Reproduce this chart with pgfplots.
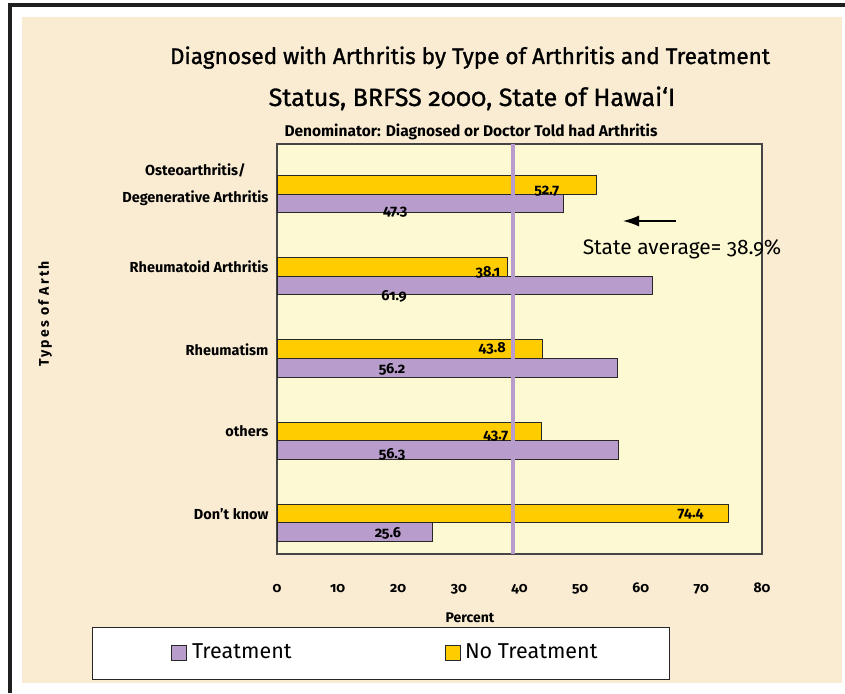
\documentclass[border=0pt]{standalone}
\usepackage{fontspec}
\setmainfont{Fira Sans}[Numbers=OldStyle]
\usepackage{pgfplots}
\pgfplotsset{compat=1.18}
\usetikzlibrary{arrows.meta}
\definecolor{parch}{RGB}{249,236,211}
\definecolor{plotbg}{RGB}{253,249,210}
\definecolor{gold}{RGB}{255,204,0}
\definecolor{purp}{RGB}{184,156,204}
\definecolor{edge}{RGB}{40,40,40}
\definecolor{axisgray}{RGB}{70,70,70}
\begin{document}
\begin{tikzpicture}
\useasboundingbox (0,0) rectangle (845pt,693pt);
\fill[white] (0,0) rectangle (845pt,693pt);
\fill[parch] (22pt,10pt) rectangle (842pt,676pt);
\draw[black!88, line width=4pt] (10pt,0pt) -- (10pt,688pt);
\draw[black!88, line width=4pt] (8pt,688pt) -- (845pt,688pt);
\node[font=\fontsize{22.5}{26}\selectfont\addfontfeature{FakeBold=1.2}, anchor=base] at (470pt,629pt) {Diagnosed with Arthritis by Type of Arthritis and Treatment};
\node[font=\fontsize{25}{28}\selectfont\addfontfeature{FakeBold=1.2}, anchor=base] at (472pt,587pt) {Status, BRFSS 2000, State of Hawai`I};
\node[font=\bfseries\fontsize{15.5}{18}\selectfont, anchor=base] at (471pt,556pt) {Denominator: Diagnosed or Doctor Told had Arthritis};
\node[font=\bfseries\fontsize{14}{16}\selectfont\addfontfeature{LetterSpace=15}, rotate=90] at (45pt,379pt) {Types of Arth};
\node[font=\bfseries\fontsize{14}{16}\selectfont] at (470pt,75pt) {Percent};
\begin{axis}[
  at={(277pt,139pt)}, anchor=south west,
  width=485pt, height=410pt, scale only axis,
  xmin=0, xmax=80, ymin=-0.377, ymax=4.608,
  bar width=0.225,
  axis background/.style={fill=plotbg},
  axis line style={draw=axisgray, line width=1.3pt},
  xtick={0,10,...,80},
  /pgf/number format/assume math mode=true,
  ytick={0.1125,1.1125,2.1125,3.1125,4.1125},
  yticklabels={Don't know, others, Rheumatism, Rheumatoid Arthritis, {Osteoarthritis/\\Degenerative Arthritis}},
  major tick length=0pt,
  xticklabel style={font=\bfseries\fontsize{14}{16}\selectfont, anchor=base, yshift=-38pt},
  yticklabel style={font=\bfseries\fontsize{14.5}{27}\selectfont, align=center, anchor=east, xshift=-5pt},
  legend style={at={(-0.3814,-0.178)}, anchor=north west, draw=black!85, line width=1pt, fill=white,
    inner xsep=0pt, inner ysep=16pt, column sep=0pt,
    nodes={inner sep=0pt, text height=15pt, text depth=5pt},
    font=\fontsize{21.5}{24}\selectfont},
  legend columns=2,
  legend cell align=left,
]
\addplot[xbar, bar shift=-0.1125, fill=purp, draw=edge, line width=1pt,
  legend image code/.code={\path[draw=none, fill=none] (0pt,0pt) -- (94pt,0pt); \draw[fill=purp, draw=edge, line width=1pt] (79pt,-7.5pt) rectangle (94pt,7.5pt);}]
  coordinates {(25.6,0) (56.3,1) (56.2,2) (61.9,3) (47.3,4)};
\addlegendentry{\makebox[258pt][l]{\hspace{5pt}Treatment}}
\addplot[xbar, bar shift=0.1125, fill=gold, draw=edge, line width=1pt,
  legend image code/.code={\draw[fill=gold, draw=edge, line width=1pt] (0pt,-7.5pt) rectangle (15pt,7.5pt);}]
  coordinates {(74.4,0) (43.7,1) (43.8,2) (38.1,3) (52.7,4)};
\addlegendentry{\makebox[208pt][l]{\hspace{4pt}No Treatment}}
\addplot[forget plot, draw=purp, line width=4.3pt] coordinates {(38.9,-0.377) (38.9,4.608)};
\begin{scope}[every node/.style={font=\bfseries\fontsize{14.5}{16}\selectfont}]
\node at (axis cs:44.5,4.04) {52.7};
\node at (axis cs:34.8,3.05) {38.1};
\node at (axis cs:35.5,2.12) {43.8};
\node at (axis cs:36.1,1.06) {43.7};
\node at (axis cs:68.2,0.11) {74.4};
\node at (axis cs:19.5,3.78) {47.3};
\node at (axis cs:19.3,2.76) {61.9};
\node at (axis cs:19.0,1.87) {56.2};
\node at (axis cs:19.0,0.83) {56.3};
\node at (axis cs:18.3,-0.13) {25.6};
\end{scope}
\end{axis}
\draw[line width=1.5pt, -{Latex[length=16pt, width=11pt]}] (676pt,472pt) -- (623pt,472pt);
\node[font=\fontsize{21}{24}\selectfont, anchor=base] at (682pt,438pt) {State average= 38.9\%};
\end{tikzpicture}
\end{document}
